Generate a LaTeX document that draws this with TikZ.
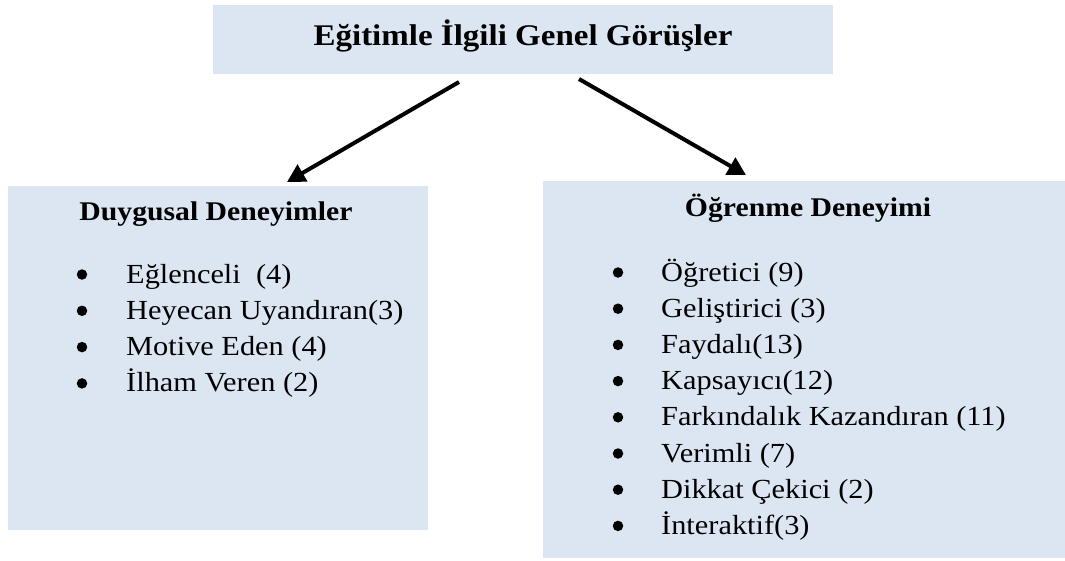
\documentclass[tikz,border=0pt]{standalone}
\usepackage{fontspec}
\setmainfont{Liberation Serif}[FakeStretch=1.1]
\usetikzlibrary{arrows.meta}
\definecolor{panel}{HTML}{DCE6F2}
\tikzset{
  panelbox/.style={fill=panel, draw=none, inner sep=0pt},
  heading/.style={font=\bfseries\fontsize{27}{32}\selectfont, anchor=base, inner sep=0pt},
  itemtext/.style={font=\fontsize{27.6}{32}\selectfont, anchor=base west, inner sep=0pt},
  bulletmark/.style={circle, fill=black, minimum size=10.5pt, inner sep=0pt},
  link/.style={line width=4pt, -{Triangle[length=18pt,width=19pt]}}
}
\begin{document}
\begin{tikzpicture}[x=1pt, y=-1pt]
  \useasboundingbox (0,0) rectangle (1065,560);

  % panels
  \node[panelbox, minimum width=620pt, minimum height=69pt] (top) at (523,39.5) {};
  \node[panelbox, minimum width=420pt, minimum height=344pt] (left) at (218,358) {};
  \node[panelbox, minimum width=522pt, minimum height=377pt] (right) at (804,369.5) {};

  % headings
  \node[heading, font=\bfseries\fontsize{30}{36}\selectfont] (toptitle) at (523,45) {Eğitimle İlgili Genel Görüşler};
  \node[heading] (lefttitle) at (216,220) {Duygusal Deneyimler};
  \node[heading] (righttitle) at (808,216) {Öğrenme Deneyimi};

  % left list
  \foreach \t [count=\i] in {Eğlenceli\ \ (4), Heyecan Uyandıran(3), Motive Eden (4), İlham Veren (2)} {
    \node[bulletmark] (lb\i) at (82, {283 + 36.3*(\i-1) - 8.5}) {};
    \node[itemtext] (li\i) at (126, {283 + 36.3*(\i-1)}) {\t};
  }

  % right list
  \foreach \t [count=\i] in {Öğretici (9), Geliştirici (3), Faydalı(13), Kapsayıcı(12),
      Farkındalık Kazandıran (11), Verimli (7), Dikkat Çekici (2), İnteraktif(3)} {
    \node[bulletmark] (rb\i) at (618, {281 + 36.2*(\i-1) - 8.5}) {};
    \node[itemtext] (ri\i) at (661, {281 + 36.2*(\i-1)}) {\t};
  }

  % connectors
  \coordinate (ls) at (459,82);
  \coordinate (le) at (287,182);
  \coordinate (rs) at (579,79);
  \coordinate (re) at (746,175);
  \draw[link] (ls) -- (le);
  \draw[link] (rs) -- (re);
\end{tikzpicture}
\end{document}
